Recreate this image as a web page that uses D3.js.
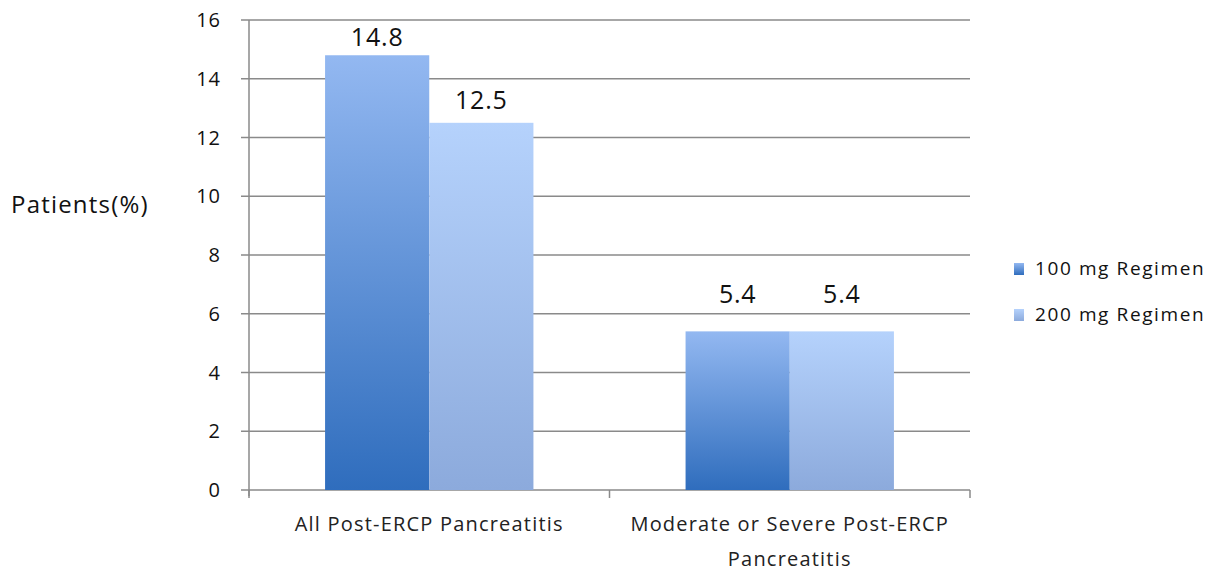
<!DOCTYPE html>
<html>
<head>
<meta charset="utf-8">
<script src="https://cdn.jsdelivr.net/npm/d3@7"></script>
<style>
  body { margin: 0; background: #fff; }
  svg { display: block; font-family: "Open Sans", "Liberation Sans", sans-serif; }
</style>
</head>
<body>
<svg id="chart" width="1230" height="573"></svg>
<script>
const categories = ["All Post-ERCP Pancreatitis", "Moderate or Severe Post-ERCP|Pancreatitis"];
const seriesNames = ["100 mg Regimen", "200 mg Regimen"];
const values100 = [14.8, 5.4];
const values200 = [12.5, 5.4];
const yTicks = [0, 2, 4, 6, 8, 10, 12, 14, 16];
const yLabel = "Patients(%)";

const svg = d3.select("#chart");
const mLeft = 249, mRight = 970, mTop = 20, mBottom = 490;
// per-group label gap above bars (layout)
const labelGap = [[9, 14], [28, 28]];

const defs = svg.append("defs");
const grads = [
  { id: "g100", c0: "#93b8f1", c1: "#2f6dbd" },
  { id: "g200", c0: "#b5d2fc", c1: "#8caadc" }
];
grads.forEach(g => {
  const lg = defs.append("linearGradient").attr("id", g.id)
    .attr("x1", 0).attr("y1", 0).attr("x2", 0).attr("y2", 1);
  lg.append("stop").attr("offset", "0%").attr("stop-color", g.c0);
  lg.append("stop").attr("offset", "100%").attr("stop-color", g.c1);
});

const x = d3.scaleBand().domain(categories).range([mLeft, mRight])
  .paddingInner(0.422).paddingOuter(0.211);
const x1 = d3.scaleBand().domain(seriesNames).range([0, x.bandwidth()]);
const y = d3.scaleLinear().domain([0, 16]).range([mBottom, mTop]);

// gridlines
svg.append("g").selectAll("line").data(yTicks).join("line")
  .attr("x1", mLeft - 8).attr("x2", mRight)
  .attr("y1", d => y(d)).attr("y2", d => y(d))
  .attr("stroke", "#8a8a8a").attr("stroke-width", 1.5);

// y axis line
svg.append("line").attr("x1", mLeft).attr("x2", mLeft)
  .attr("y1", mTop).attr("y2", mBottom + 6)
  .attr("stroke", "#8a8a8a").attr("stroke-width", 1.5);

// x axis ticks
const xTickPos = [mLeft, mLeft + x.step(), mRight];
svg.append("g").selectAll("line").data(xTickPos).join("line")
  .attr("x1", d => d).attr("x2", d => d)
  .attr("y1", mBottom).attr("y2", mBottom + 8)
  .attr("stroke", "#8a8a8a").attr("stroke-width", 1.5);

// y tick labels
svg.append("g").selectAll("text").data(yTicks).join("text")
  .attr("x", 221).attr("y", d => y(d)).attr("dy", "0.35em")
  .attr("text-anchor", "end").attr("font-size", 20).attr("letter-spacing", 1)
  .attr("fill", "#111")
  .text(d => d);

// y label
svg.append("text").attr("x", 11).attr("y", 213)
  .attr("font-size", 24).attr("letter-spacing", 1.2).attr("fill", "#111").text(yLabel);

// bars
const seriesData = [values100, values200];
seriesNames.forEach((s, si) => {
  const g = svg.append("g");
  g.selectAll("rect").data(categories).join("rect")
    .attr("x", c => x(c) + x1(s))
    .attr("width", x1.bandwidth())
    .attr("y", (c, i) => y(seriesData[si][i]))
    .attr("height", (c, i) => y(0) - y(seriesData[si][i]))
    .attr("fill", `url(#${grads[si].id})`);
  g.selectAll("text").data(categories).join("text")
    .attr("x", c => x(c) + x1(s) + x1.bandwidth() / 2)
    .attr("y", (c, i) => y(seriesData[si][i]) - labelGap[i][si])
    .attr("text-anchor", "middle").attr("font-size", 25).attr("letter-spacing", 0.8)
    .attr("fill", "#111")
    .text((c, i) => seriesData[si][i].toFixed(1));
});

// category labels
categories.forEach(c => {
  const lines = c.split("|");
  const t = svg.append("text").attr("text-anchor", "middle")
    .attr("font-size", 20).attr("letter-spacing", 1.2).attr("fill", "#222");
  lines.forEach((ln, i) => {
    t.append("tspan").attr("x", x(c) + x.bandwidth() / 2)
      .attr("y", 531 + i * 35).text(ln);
  });
});

// legend
const legend = svg.append("g");
seriesNames.forEach((s, i) => {
  const ly = 269 + i * 46;
  legend.append("rect").attr("x", 1014).attr("y", ly - 6).attr("width", 10).attr("height", 12)
    .attr("fill", `url(#${grads[i].id})`);
  legend.append("text").attr("x", 1035).attr("y", ly + 6)
    .attr("font-size", 19).attr("letter-spacing", 1.6).attr("fill", "#111").text(s);
});
</script>
</body>
</html>
